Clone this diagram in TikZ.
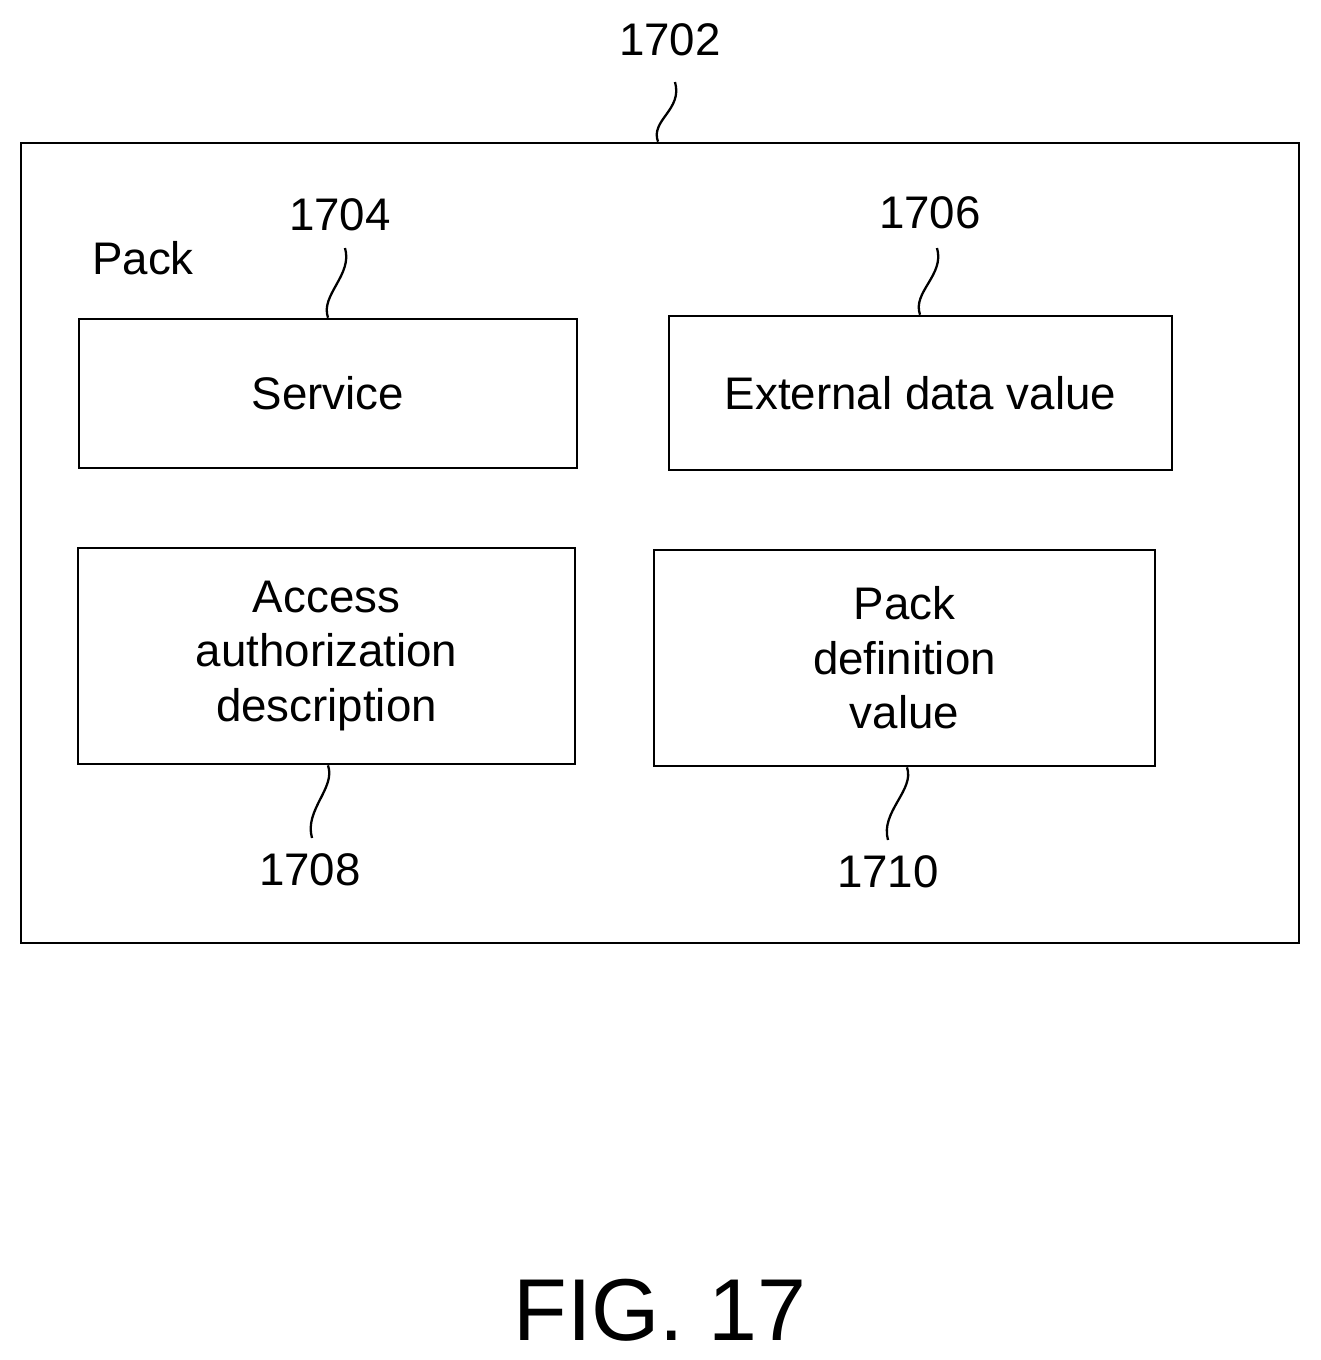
\documentclass[tikz,border=0pt]{standalone}
\usepackage{fontspec}
\setmainfont{Liberation Sans}
\usetikzlibrary{positioning}
\tikzset{
  box/.style={draw, line width=1.5pt, inner sep=0pt, align=center, font=\fontsize{26}{31}\selectfont},
  num/.style={font=\fontsize{26}{31}\selectfont},
  lead/.style={line width=1.3pt}
}
\begin{document}
\begin{tikzpicture}[x=0.02cm, y=-0.02cm]
        \useasboundingbox (0,0) rectangle (1321,1360);
        % outer frame
        \node[box, minimum width=1278*0.02cm, minimum height=800*0.02cm] (pack) at (660,543) {};
        \node[num, anchor=west] (packlbl) at (86,258) {Pack};
        % inner boxes
        \node[box, minimum width=498*0.02cm, minimum height=149*0.02cm] (service) at (328,393.5) {Service};
        \node[box, minimum width=503*0.02cm, minimum height=154*0.02cm] (extdata) at (920.5,393) {External data value};
        \node[box, minimum width=497*0.02cm, minimum height=216*0.02cm] (access) at (326.5,656) {Access\\authorization\\description};
        \node[box, minimum width=501*0.02cm, minimum height=216*0.02cm] (packdef) at (904.5,658) {Pack\\definition\\value};
        % reference numerals
        \node[num] (n1702) at (670,40) {1702};
        \node[num] (n1704) at (340,215) {1704};
        \node[num] (n1706) at (930,213) {1706};
        \node[num] (n1708) at (310,870) {1708};
        \node[num] (n1710) at (888,872) {1710};
        \node[font=\fontsize{50}{60}\selectfont] (fig) at (660,1310) {FIG. 17};
        % leaders
        \coordinate (t1702) at (675,82);
        \coordinate (t1704) at (345,248);
        \coordinate (t1706) at (937,248);
        \coordinate (t1708) at (312,838);
        \coordinate (t1710) at (888,840);
        \draw[lead] (pack.north -| 658,0) .. controls (650,120) and (683,110) .. (t1702);
        \draw[lead] (service.north -| 328,0) .. controls (320,295) and (353,275) .. (t1704);
        \draw[lead] (extdata.north -| 920,0) .. controls (912,292) and (945,275) .. (t1706);
        \draw[lead] (access.south -| 328,0) .. controls (336,788) and (304,810) .. (t1708);
        \draw[lead] (packdef.south -| 907,0) .. controls (915,790) and (880,812) .. (t1710);
\end{tikzpicture}
\end{document}
